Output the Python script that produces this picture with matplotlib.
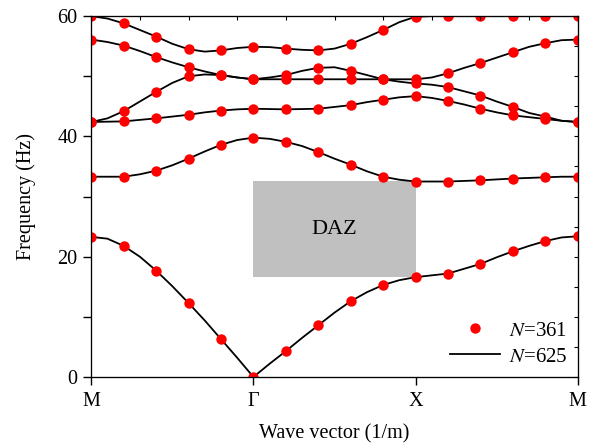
import numpy as np
import matplotlib
matplotlib.use("Agg")
import matplotlib.pyplot as plt
from matplotlib.patches import Rectangle

plt.rcParams['font.family'] = ['Liberation Serif', 'DejaVu Serif']
plt.rcParams['mathtext.fontset'] = 'stix'

# high-symmetry path M - Gamma - X - M, 5 steps per segment
sym_labels = ["M", "Γ", "X", "M"]
sym_index = [0, 5, 10, 15]

# N=361 dots, one value per k-point (Hz)
dots_b1 = [23.3, 21.8, 17.7, 12.3, 6.3, 0.0, 4.3, 8.6, 12.6, 15.3, 16.6, 17.2, 18.8, 20.9, 22.6, 23.4]
dots_b2 = [33.3, 33.3, 34.3, 36.3, 38.6, 39.8, 39.1, 37.4, 35.3, 33.3, 32.5, 32.5, 32.7, 33.0, 33.2, 33.3]
dots_b3 = [42.4, 42.5, 43.0, 43.6, 44.3, 44.6, 44.5, 44.6, 45.2, 46.1, 46.7, 45.9, 44.6, 43.5, 42.9, 42.4]
dots_b4 = [42.4, 44.2, 47.4, 50.0, 50.2, 49.5, 49.5, 49.5, 49.5, 49.5, 49.5, 50.5, 52.2, 54.0, 55.5, 56.1]
dots_b5 = [56.1, 55.1, 53.2, 51.5, 50.2, 49.5, 50.2, 51.4, 50.9, 49.5, 48.8, 48.2, 46.8, 44.9, 43.3, 42.4]
dots_b6 = [60.0, 58.8, 56.6, 54.5, 54.3, 54.9, 54.6, 54.3, 55.4, 57.7, 59.9, 60.0, 60.0, 60.0, 60.0, 60.0]

# N=625 curves, read at every half k-step
line_b1 = [23.3, 23.0, 21.8, 20.0, 17.7, 15.1, 12.3, 9.4, 6.3, 3.2, 0.0, 2.2, 4.3, 6.5, 8.6, 10.7,
           12.6, 14.1, 15.3, 16.1, 16.6, 16.9, 17.2, 18.0, 18.8, 19.9, 20.9, 21.8, 22.6, 23.2, 23.4]
line_b2 = [33.3, 33.3, 33.3, 33.7, 34.3, 35.2, 36.3, 37.5, 38.6, 39.4, 39.8, 39.6, 39.1, 38.4, 37.4, 36.3,
           35.3, 34.2, 33.3, 32.8, 32.5, 32.5, 32.5, 32.6, 32.7, 32.85, 33.0, 33.1, 33.2, 33.3, 33.3]
line_b3 = [42.4, 42.45, 42.5, 42.75, 43.0, 43.3, 43.6, 44.0, 44.3, 44.5, 44.6, 44.55, 44.5, 44.55, 44.6, 44.9,
           45.2, 45.7, 46.1, 46.5, 46.7, 46.4, 45.9, 45.3, 44.6, 44.0, 43.5, 43.2, 42.9, 42.6, 42.4]
line_b4 = [42.4, 43.0, 44.2, 45.8, 47.4, 48.9, 50.0, 50.3, 50.2, 49.8, 49.5, 49.5, 49.5, 49.5, 49.5, 49.5,
           49.5, 49.5, 49.5, 49.5, 49.5, 49.8, 50.5, 51.4, 52.2, 53.1, 54.0, 54.9, 55.5, 56.0, 56.1]
line_b5 = [56.1, 55.7, 55.1, 54.2, 53.2, 52.3, 51.5, 50.8, 50.2, 49.8, 49.5, 49.8, 50.2, 50.9, 51.4, 51.5,
           50.9, 50.2, 49.5, 49.1, 48.8, 48.6, 48.2, 47.5, 46.8, 45.8, 44.9, 43.9, 43.3, 42.6, 42.4]
line_b6 = [60.0, 59.6, 58.8, 57.7, 56.6, 55.4, 54.5, 54.1, 54.3, 54.7, 54.9, 54.85, 54.6, 54.4, 54.3, 54.6,
           55.4, 56.5, 57.7, 59.0, 59.9, 60.0, 60.0, 60.0, 60.0, 60.0, 60.0, 60.0, 60.0, 60.0, 60.0]

daz_range = (16.6, 32.6)  # band gap (Hz), spans Gamma to X

dots = [dots_b1, dots_b2, dots_b3, dots_b4, dots_b5, dots_b6]
lines = [line_b1, line_b2, line_b3, line_b4, line_b5, line_b6]

k_dots = np.arange(len(dots_b1))
k_line = np.arange(len(line_b1)) / 2.0

fig = plt.figure(figsize=(6.0, 4.48), dpi=100)
ax = fig.add_axes([0.152, 0.1585, 0.811, 0.8055])

ax.add_patch(Rectangle((sym_index[1], daz_range[0]), sym_index[2] - sym_index[1],
                       daz_range[1] - daz_range[0], facecolor='#c0c0c0', edgecolor='none', zorder=1))
ax.text((sym_index[1] + sym_index[2]) / 2, sum(daz_range) / 2, "DAZ", ha='center', va='center',
        fontsize=16, zorder=2)

for i, (d, l) in enumerate(zip(dots, lines)):
    ax.plot(k_line, l, color='black', lw=1.3, zorder=3,
            label="$N$=625" if i == 0 else None)
    ax.plot(k_dots, d, 'o', color='red', ms=7.5, mec='none', zorder=4,
            label="$N$=361" if i == 0 else None)

ax.set_xlim(0, 15)
ax.set_ylim(0, 60)
ax.set_xticks(sym_index)
ax.set_xticklabels(sym_labels)
ax.set_yticks([0, 20, 40, 60])
ax.set_yticks([10, 30, 50], minor=True)
ax.tick_params(axis='both', which='both', direction='out', labelsize=14.5, width=1.0, length=5.5)
ax.tick_params(axis='x', which='major', pad=5.5)
ax.tick_params(axis='y', which='major', pad=4.5)
ax.set_xlabel("Wave vector (1/m)", fontsize=14.5, labelpad=9)
ax.set_ylabel("Frequency (Hz)", fontsize=14.5, labelpad=15)

# inner ticks on top and right frame
ax_top = ax.twiny()
ax_top.set_xlim(0, 15)
ax_top.set_xticks(np.linspace(0, 15, 11))
ax_top.tick_params(axis='x', direction='in', length=3, width=0.8, labeltop=False)
ax_right = ax.twinx()
ax_right.set_ylim(0, 60)
ax_right.set_yticks(np.arange(0, 61, 5))
ax_right.tick_params(axis='y', direction='in', length=3, width=0.8, labelright=False)

h, lab = ax.get_legend_handles_labels()
ax.legend([h[1], h[0]], [lab[1], lab[0]], loc='lower right', frameon=False, fontsize=15,
          handlelength=2.4, handletextpad=0.4, labelspacing=0.3,
          bbox_to_anchor=(1.0, 0.0), borderaxespad=0.1)

fig.savefig("out.png", dpi=100)
